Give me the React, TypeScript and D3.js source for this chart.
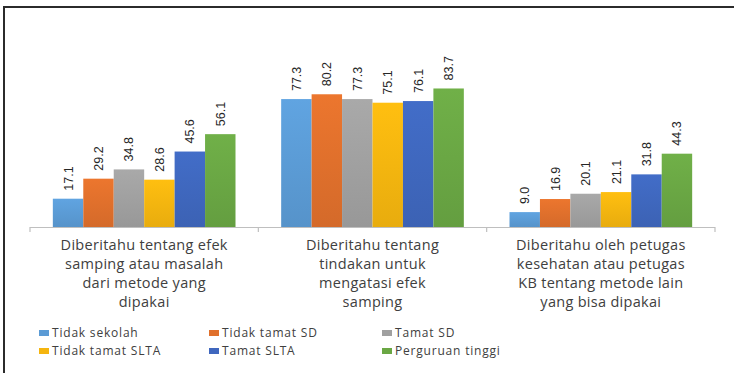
import React from "react";
import * as d3 from "d3";

const categories: string[][] = [
  ["Diberitahu tentang efek", "samping atau masalah", "dari metode yang", "dipakai"],
  ["Diberitahu tentang", "tindakan untuk", "mengatasi efek", "samping"],
  ["Diberitahu oleh petugas", "kesehatan atau petugas", "KB tentang metode lain", "yang bisa dipakai"],
];
const seriesNames = ["Tidak sekolah", "Tidak tamat SD", "Tamat SD", "Tidak tamat SLTA", "Tamat SLTA", "Perguruan tinggi"];
const tidakSekolah = [17.1, 77.3, 9.0];
const tidakTamatSD = [29.2, 80.2, 16.9];
const tamatSD = [34.8, 77.3, 20.1];
const tidakTamatSLTA = [28.6, 75.1, 21.1];
const tamatSLTA = [45.6, 76.1, 31.8];
const perguruanTinggi = [56.1, 83.7, 44.3];
const seriesValues = [tidakSekolah, tidakTamatSD, tamatSD, tidakTamatSLTA, tamatSLTA, perguruanTinggi];
const colors = ["#5B9BD5", "#E0702C", "#A0A0A0", "#F5B50F", "#3F67BE", "#6AA744"];

export default function App() {
  const W = 734, H = 373;
  const x0 = d3.scaleBand<number>().domain([0, 1, 2]).range([30, 715]).paddingInner(0).paddingOuter(0);
  const x1 = d3.scaleBand<number>().domain(d3.range(6)).range([0, x0.bandwidth()]).paddingOuter(0.75).paddingInner(0);
  const y = d3.scaleLinear().domain([0, 100]).range([227, 61.5]);
  const base = y(0);
  const fmt = d3.format(".1f");
  return (
    <svg width={W} height={H} style={{ position: "absolute", left: 0, top: 0, background: "#fff" }}>
      <defs>
        {colors.map((c, i) => (
          <linearGradient key={i} id={"g" + i} x1="0" y1="0" x2="0" y2="1">
            <stop offset="0" stopColor={d3.color(c)!.brighter(0.15).formatHex()} />
            <stop offset="1" stopColor={d3.color(c)!.darker(0.15).formatHex()} />
          </linearGradient>
        ))}
      </defs>
      <rect x={0} y={0} width={W} height={H} fill="#fff" />
      <line x1={3} x2={W} y1={7} y2={7} stroke="#2b2b2b" strokeWidth={2} />
      <line x1={4} x2={4} y1={6} y2={H} stroke="#2b2b2b" strokeWidth={2} />
      {seriesValues.map((vals, s) =>
        vals.map((v, c) => {
          const bx = x0(c)! + x1(s)!;
          const by = y(v);
          return (
            <g key={s + "-" + c}>
              <rect x={bx} y={by} width={x1.bandwidth()} height={base - by} fill={`url(#g${s})`} />
              <text
                transform={`translate(${bx + x1.bandwidth() / 2 + 4.5},${by - 8}) rotate(-90)`}
                fontFamily="'Liberation Sans Narrow', 'Arial Narrow', sans-serif"
                fontSize={12.5}
                fill="#262626"
              >
                {fmt(v)}
              </text>
            </g>
          );
        })
      )}
      <line x1={30} x2={715} y1={base + 0.5} y2={base + 0.5} stroke="#BFBFBF" strokeWidth={1.2} />
      {[0, 1, 2, 3].map((i) => {
        const tx = 30 + i * x0.bandwidth();
        return <line key={i} x1={tx} x2={tx} y1={base} y2={base + 5} stroke="#BFBFBF" strokeWidth={1.2} />;
      })}
      {categories.map((lines, c) => (
        <text
          key={c}
          x={x0(c)! + x0.bandwidth() / 2}
          y={250}
          textAnchor="middle"
          fontFamily="'Open Sans', sans-serif"
          fontSize={14.5}
          letterSpacing={0.3}
          fill="#404040"
        >
          {lines.map((l, i) => (
            <tspan key={i} x={x0(c)! + x0.bandwidth() / 2} dy={i === 0 ? 0 : 19}>
              {l}
            </tspan>
          ))}
        </text>
      ))}
      {seriesNames.map((n, i) => {
        const col = i % 3;
        const row = Math.floor(i / 3);
        const lx = [39, 209, 382][col];
        const ly = [333, 351][row];
        return (
          <g key={n}>
            <rect x={lx} y={ly - 3} width={10} height={6} fill={colors[i]} />
            <text x={lx + 13} y={ly + 4} fontFamily="'Open Sans', sans-serif" fontSize={12} letterSpacing={0.8} fill="#404040">
              {n}
            </text>
          </g>
        );
      })}
    </svg>
  );
}
